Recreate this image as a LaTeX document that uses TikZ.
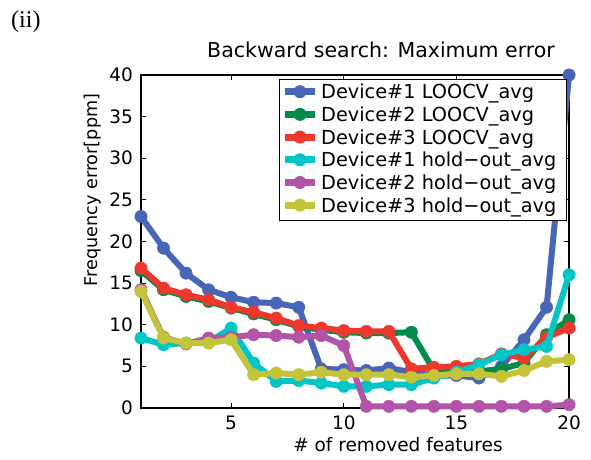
\documentclass[tikz,border=0pt]{standalone}
\usepackage{fontspec}
\usetikzlibrary{calc}
\setmainfont{DejaVu Sans}
\newfontfamily\serfont{Liberation Serif}
\definecolor{cBlue}{RGB}{72,101,183}
\definecolor{cGreen}{RGB}{0,140,72}
\definecolor{cRed}{RGB}{238,55,45}
\definecolor{cCyan}{RGB}{0,198,200}
\definecolor{cPurple}{RGB}{178,84,168}
\definecolor{cYellow}{RGB}{196,196,58}
\tikzset{
  serline/.style={line width=6bp, line join=round, mark=*, mark size=6.2bp, mark options={line width=0.4bp}},
  axisline/.style={line width=1.2bp, black},
  ticklab/.style={font=\fontsize{18.5bp}{20bp}\selectfont, inner sep=0pt},
  legtext/.style={font=\fontsize{19.3bp}{21bp}\selectfont, inner sep=0pt, anchor=base west},
}
\begin{document}
\begin{tikzpicture}[x=1bp,y=1bp]
\useasboundingbox (0,0) rectangle (591,460);
\fill[white] (0,0) rectangle (591,460);
% panel label and title
\node[font=\serfont\fontsize{24bp}{26bp}\selectfont, anchor=base west, inner sep=0pt] (panel) at (11,432) {(ii)};
\node[font=\fontsize{20.5bp}{22bp}\selectfont, anchor=base, inner sep=0pt] (title) at (381,402) {Backward search: Maximum error};
\node[ticklab, anchor=base] (xlab) at (398,8) {\# of removed features};
\node[font=\fontsize{17.6bp}{19bp}\selectfont, inner sep=0pt, rotate=90, anchor=center] (ylab) at (93,270) {Frequency error[ppm]};
\begin{scope}[shift={(118.47bp,52bp)}, x=22.53bp, y=8.325bp]
  % axes box and ticks
  \draw[axisline] (1,0) rectangle (20,40);
  \foreach \t in {5,10,15,20} {
    \draw[axisline] (\t,0) -- ++(0,5bp);
    \draw[axisline] (\t,40) -- ++(0,-5bp);
    \node[ticklab, anchor=north] (xt\t) at ([yshift=-8bp]\t,0) {\t};
  }
  \foreach \t in {0,5,...,40} {
    \draw[axisline] (1,\t) -- ++(5bp,0);
    \draw[axisline] (20,\t) -- ++(-5bp,0);
    \node[ticklab, anchor=east] (yt\t) at ([xshift=-8bp]1,\t) {\t};
  }
  % data series
  \draw[serline, cBlue] plot coordinates {(1,23.0) (2,19.2) (3,16.2) (4,14.2) (5,13.3) (6,12.7) (7,12.6) (8,12.1) (9,4.7) (10,4.6) (11,4.5) (12,4.8) (13,4.3) (14,3.9) (15,3.9) (16,3.6) (17,5.0) (18,8.2) (19,12.1) (20,40)};
  \draw[serline, cGreen] plot coordinates {(1,16.5) (2,14.2) (3,13.4) (4,12.8) (5,12.0) (6,11.3) (7,10.6) (8,9.8) (9,9.4) (10,9.1) (11,9.0) (12,9.0) (13,9.1) (14,4.5) (15,4.3) (16,4.4) (17,4.7) (18,5.4) (19,8.8) (20,10.6)};
  \draw[serline, cRed] plot coordinates {(1,16.8) (2,14.4) (3,13.6) (4,13.0) (5,12.1) (6,11.5) (7,10.8) (8,9.9) (9,9.6) (10,9.3) (11,9.2) (12,9.2) (13,4.7) (14,4.9) (15,5.0) (16,5.3) (17,6.5) (18,6.0) (19,8.5) (20,9.6)};
  \draw[serline, cCyan] plot coordinates {(1,8.4) (2,7.6) (3,7.8) (4,7.9) (5,9.6) (6,5.4) (7,3.2) (8,3.3) (9,3.0) (10,2.6) (11,2.6) (12,2.8) (13,2.8) (14,3.6) (15,4.3) (16,5.2) (17,6.4) (18,7.0) (19,7.4) (20,16.0)};
  \draw[serline, cPurple] plot coordinates {(1,14.2) (2,8.5) (3,7.7) (4,8.4) (5,8.5) (6,8.8) (7,8.7) (8,8.5) (9,8.7) (10,7.5) (11,0.2) (12,0.2) (13,0.2) (14,0.2) (15,0.2) (16,0.2) (17,0.2) (18,0.2) (19,0.2) (20,0.4)};
  \draw[serline, cYellow] plot coordinates {(1,14.0) (2,8.4) (3,7.8) (4,7.8) (5,8.2) (6,4.0) (7,4.2) (8,4.0) (9,4.3) (10,4.0) (11,4.0) (12,4.0) (13,3.7) (14,3.9) (15,4.1) (16,4.1) (17,3.8) (18,4.5) (19,5.6) (20,5.8)};
\end{scope}
% legend
\node[draw=black, line width=1bp, fill=white, minimum width=287bp, minimum height=141bp, anchor=north west, inner sep=0pt] (legend) at (279,381) {};
\begin{scope}
  \clip (279,381) rectangle (566,240);
  \foreach \c/\t [count=\i from 0] in {cBlue/Device\#1 LOOCV\_avg, cGreen/Device\#2 LOOCV\_avg, cRed/Device\#3 LOOCV\_avg, cCyan/Device\#1 hold−out\_avg, cPurple/Device\#2 hold−out\_avg, cYellow/Device\#3 hold−out\_avg} {
    \coordinate (la\i) at (285,{368.3-22.7*\i});
    \coordinate (lb\i) at (315,{368.3-22.7*\i});
    \draw[line width=7bp, \c] (la\i) -- (lb\i);
    \fill[\c] ($(la\i)!0.5!(lb\i)$) circle[radius=6.5bp];
    \node[legtext] (lt\i) at ([yshift=-7bp]321,{368.3-22.7*\i}) {\t};
  }
\end{scope}
\end{tikzpicture}
\end{document}
